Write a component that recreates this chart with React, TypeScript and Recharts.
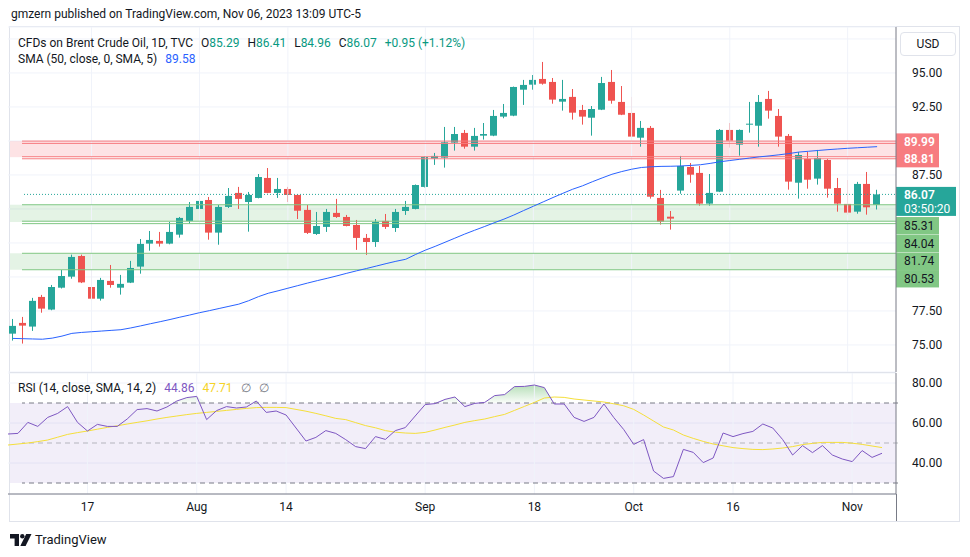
import React from 'react';
import {
  ComposedChart,
  Bar,
  Line,
  Area,
  XAxis,
  YAxis,
  CartesianGrid,
  ReferenceLine,
  ReferenceArea,
} from 'recharts';

// first trading day shown, daily candles (weekdays)
const START_DAY = '2023-07-05';

const OPEN = [
  75.83, 76.62, 76.35, 78.53, 77.6, 79.21, 80.02, 81.54, 79.26, 78.4,
  79.71, 79.21, 79.58, 80.76, 82.45, 82.65, 82.45, 83.11, 84.12, 85.0,
  85.66, 83.26, 85.15, 86.18, 85.51, 85.81, 87.28, 86.18, 86.47, 86.03,
  84.93, 83.16, 83.68, 84.71, 84.41, 83.82, 82.87, 82.57, 84.12, 83.6,
  84.85, 85.0, 86.62, 88.7, 88.77, 89.88, 90.59, 89.58, 90.39, 90.39,
  91.79, 91.86, 93.77, 94.14, 94.56, 94.34, 92.89, 93.24, 92.28, 91.71,
  92.3, 94.34, 92.87, 92.06, 90.24, 90.96, 85.81, 84.43, 86.35, 88.09,
  87.65, 85.39, 86.27, 90.81, 89.73, 91.2, 91.12, 93.09, 91.84, 90.37,
  86.93, 88.68, 87.23, 88.6, 86.54, 85.37, 84.8, 86.84, 85.29,
];
const HIGH = [
  76.91, 77.06, 78.46, 78.68, 79.41, 80.51, 81.64, 81.64, 80.59, 79.93,
  80.88, 80.15, 81.18, 82.79, 83.38, 83.31, 84.04, 84.41, 85.51, 85.81,
  85.88, 85.29, 86.54, 86.62, 86.25, 87.57, 88.01, 87.28, 86.62, 86.08,
  85.29, 84.78, 85.0, 85.74, 84.56, 84.19, 83.16, 84.26, 84.63, 85.0,
  85.59, 86.8, 88.86, 89.12, 91.03, 91.03, 90.81, 90.96, 91.32, 92.28,
  92.72, 94.0, 94.49, 94.85, 95.81, 94.63, 94.49, 93.82, 92.65, 92.57,
  94.71, 95.22, 94.04, 93.24, 91.47, 91.1, 86.4, 84.85, 88.9, 88.38,
  88.16, 87.57, 90.88, 91.32, 90.85, 92.87, 93.38, 93.68, 92.35, 90.51,
  89.19, 89.19, 89.34, 88.68, 87.28, 87.13, 86.99, 87.72, 86.41,
];
const LOW = [
  75.32, 75.1, 76.03, 77.37, 77.55, 79.15, 79.87, 79.55, 78.26, 78.26,
  79.21, 78.7, 79.55, 80.24, 81.93, 82.23, 82.4, 82.89, 83.92, 84.26,
  82.74, 82.37, 85.07, 85.0, 83.33, 85.78, 86.15, 85.81, 85.51, 84.26,
  83.16, 83.09, 83.31, 84.34, 83.72, 81.99, 81.62, 82.21, 83.53, 83.31,
  84.56, 84.97, 86.58, 88.24, 88.04, 89.29, 89.43, 89.29, 90.1, 90.35,
  91.67, 91.82, 92.65, 93.77, 94.14, 92.74, 92.23, 91.57, 91.2, 90.39,
  92.27, 92.74, 91.9, 90.28, 89.58, 85.76, 83.85, 83.48, 86.12, 86.93,
  85.24, 85.24, 86.24, 89.51, 88.92, 90.61, 89.58, 91.64, 89.58, 86.42,
  85.76, 86.49, 86.79, 85.83, 84.8, 84.58, 84.65, 84.58, 84.96,
];
const CLOSE = [
  76.4, 76.42, 78.24, 77.67, 79.26, 80.07, 81.47, 79.6, 78.4, 79.78,
  79.41, 79.49, 80.66, 82.43, 82.72, 82.45, 83.31, 84.34, 85.15, 85.59,
  83.26, 85.15, 85.96, 85.74, 86.03, 87.35, 86.18, 86.47, 86.03, 84.87,
  83.24, 83.75, 84.78, 84.41, 83.75, 82.87, 82.57, 84.04, 83.68, 84.78,
  85.15, 86.76, 88.82, 88.9, 89.9, 90.51, 89.58, 90.37, 90.51, 91.84,
  92.06, 93.97, 94.12, 94.49, 94.21, 93.04, 93.09, 92.08, 91.79, 92.35,
  94.26, 92.96, 91.93, 90.32, 90.96, 85.9, 84.07, 84.29, 88.16, 87.52,
  85.39, 86.18, 90.81, 90.02, 90.81, 91.27, 92.87, 92.23, 90.32, 87.01,
  88.97, 87.15, 88.75, 86.49, 85.39, 84.73, 86.84, 85.12, 86.07,
];
const SMA50 = [
  75.48, 75.46, 75.44, 75.42, 75.5, 75.65, 75.85, 75.92, 75.97, 76.02,
  76.07, 76.12, 76.25, 76.4, 76.56, 76.71, 76.87, 77.04, 77.2, 77.37,
  77.52, 77.68, 77.84, 78.0, 78.25, 78.55, 78.8, 78.98, 79.17, 79.36,
  79.55, 79.73, 79.9, 80.08, 80.27, 80.45, 80.62, 80.8, 80.98, 81.15,
  81.3, 81.65, 81.97, 82.25, 82.55, 82.85, 83.15, 83.43, 83.7, 83.98,
  84.25, 84.55, 84.88, 85.2, 85.52, 85.84, 86.15, 86.45, 86.7, 87.0,
  87.28, 87.55, 87.75, 87.92, 88.05, 88.1, 88.13, 88.14, 88.16, 88.2,
  88.25, 88.35, 88.47, 88.56, 88.65, 88.74, 88.83, 88.9, 88.98, 89.07,
  89.18, 89.24, 89.3, 89.36, 89.41, 89.46, 89.5, 89.54, 89.58,
];
const RSI = [
  54.5, 54.8, 60.3, 58.3, 62.8, 64.8, 68.2, 60.3, 56.0, 59.3,
  58.3, 58.3, 62.0, 66.7, 67.2, 66.0, 68.0, 71.0, 72.7, 73.3,
  61.7, 66.2, 68.2, 67.5, 68.0, 71.0, 65.3, 66.0, 64.0, 57.5,
  51.0, 52.8, 56.2, 54.8, 51.7, 48.2, 47.2, 53.2, 51.8, 56.2,
  57.7, 63.5, 69.2, 69.7, 71.8, 73.0, 68.2, 69.8, 70.3, 73.7,
  74.2, 78.2, 78.3, 79.0, 77.7, 69.5, 69.5, 62.8, 60.8, 62.8,
  69.5, 62.7, 56.7, 49.3, 51.7, 36.0, 32.3, 33.2, 46.8, 45.3,
  40.2, 42.5, 55.0, 53.2, 54.7, 55.8, 59.5, 57.5, 51.7, 44.0,
  48.7, 45.2, 48.7, 44.0, 42.0, 40.7, 46.2, 42.8, 44.86,
];
const RSI_MA = [
  49.0, 49.5, 50.0, 50.7, 51.5, 52.9, 54.3, 55.2, 56.0, 56.9,
  57.8, 58.6, 59.5, 60.3, 61.1, 62.0, 62.8, 63.5, 64.2, 64.8,
  65.3, 65.8, 66.3, 66.8, 67.3, 67.7, 67.8, 67.8, 67.7, 66.8,
  65.9, 64.8, 63.6, 62.3, 61.7, 60.2, 58.7, 57.6, 56.2, 55.4,
  55.0, 54.8, 55.3, 56.5, 57.8, 59.0, 60.3, 61.2, 62.0, 63.2,
  64.3, 66.3, 68.3, 70.3, 72.5, 73.0, 72.8, 72.0, 71.5, 71.0,
  70.5, 69.6, 68.6, 66.8, 64.0, 61.0, 58.0, 56.5, 54.0, 52.3,
  50.8, 49.5, 48.6, 47.7, 47.2, 46.8, 46.7, 47.0, 47.5, 48.2,
  49.2, 49.8, 50.3, 50.3, 50.3, 49.9, 49.3, 48.5, 47.71,
];

const TICKS = [
  { date: '2023-07-17', label: '17' },
  { date: '2023-08-01', label: 'Aug' },
  { date: '2023-08-14', label: '14' },
  { date: '2023-09-01', label: 'Sep' },
  { date: '2023-09-18', label: '18' },
  { date: '2023-10-02', label: 'Oct' },
  { date: '2023-10-16', label: '16' },
  { date: '2023-11-01', label: 'Nov' },
];
const PRICE_TICKS = [75, 77.5, 80, 82.5, 85, 87.5, 90, 92.5, 95, 97.5];
const PRICE_LABELS = [75, 77.5, 87.5, 92.5, 95];
const RSI_TICKS = [40, 60, 80];

const RED_ZONE = [88.81, 89.99];
const GREEN_ZONES = [
  [84.04, 85.31],
  [80.53, 81.74],
];
const RED_LINES = [89.99, 89.82, 88.84, 88.69];
const GREEN_LINES = [85.31, 84.1, 83.92, 81.74, 80.53];
const LAST_PRICE = 86.07;
const COUNTDOWN = '03:50:20';
const TAGS = [89.99, 88.81, 85.31, 84.04, 81.74, 80.53];

const UP = '#26a69a';
const DOWN = '#ef5350';
const TEXT = '#131722';
const GRID = '#f0f3fa';
const AXIS = '#787b86';
// empty space right of the last bar, like TradingView's right offset
const PAD_RIGHT = 14;
// drawings start at the frame edge, a little right of the plot's left edge
const INSET_LEFT = 2;
// where the stacked price tags sit below their own line (px)
const TAG_SHIFT = [1, 1.5, 21, 21.5, 8, 9];

const tradingDays = (start: string, n: number) => {
  const out: string[] = [];
  const d = new Date(start + 'T00:00:00Z');
  while (out.length < n) {
    const wd = d.getUTCDay();
    if (wd !== 0 && wd !== 6) out.push(d.toISOString().slice(0, 10));
    d.setUTCDate(d.getUTCDate() + 1);
  }
  return out;
};

const DATES = tradingDays(START_DAY, CLOSE.length);
const data = DATES.map((date, i) => ({
  date,
  open: OPEN[i],
  high: HIGH[i],
  low: LOW[i],
  close: CLOSE[i],
  range: [LOW[i], HIGH[i]],
  sma: SMA50[i],
  rsi: RSI[i],
  rsiMa: RSI_MA[i],
  ob: [70, Math.max(70, RSI[i])],
}));

const Candle = (props: any) => {
  const { x, y, width, height, payload } = props;
  if (x == null || !payload) return null;
  const { open, close, high, low } = payload;
  const top = Math.min(y, y + height);
  const h = Math.abs(height);
  const toY = (v: number) => top + ((high - v) / (high - low)) * h;
  const color = close >= open ? UP : DOWN;
  const cx = Math.floor(x + width / 2) + 0.5;
  const y1 = toY(Math.max(open, close));
  const y2 = toY(Math.min(open, close));
  return (
    <g>
      <line x1={cx} x2={cx} y1={top} y2={top + h} stroke={color} strokeWidth={1} />
      <rect x={cx - 3.5} y={y1} width={7} height={Math.max(1, y2 - y1)} fill={color} />
    </g>
  );
};

// horizontal lines / bands run on to the price scale, over the right offset
const WideLine = (p: any) => (
  <line
    x1={p.x1 + INSET_LEFT}
    y1={p.y1}
    x2={p.x2 + PAD_RIGHT}
    y2={p.y2}
    stroke={p.stroke}
    strokeWidth={p.strokeWidth ?? 1}
    strokeDasharray={p.strokeDasharray}
    strokeOpacity={p.strokeOpacity}
  />
);

const WideRect = (p: any) => (
  <rect
    x={p.x + INSET_LEFT}
    y={p.y}
    width={p.width + PAD_RIGHT - INSET_LEFT}
    height={p.height}
    fill={p.fill}
    fillOpacity={p.fillOpacity}
  />
);

const PriceTick = (props: any) => {
  const { x, y, payload } = props;
  if (!PRICE_LABELS.includes(payload.value)) return <g />;
  return (
    <text x={x + 8} y={y} dy={4} fontSize={12} fill={TEXT} textAnchor="start">
      {payload.value.toFixed(2)}
    </text>
  );
};

const RsiTick = (props: any) => {
  const { x, y, payload } = props;
  return (
    <text x={x + 8} y={y} dy={4} fontSize={12} fill={TEXT} textAnchor="start">
      {payload.value.toFixed(2)}
    </text>
  );
};

const tagLabel = (value: number, idx: number) => (props: any) => {
  const vb = props.viewBox;
  if (!vb) return null;
  const red = value > 88;
  const x = vb.x + vb.width;
  const cy = vb.y + TAG_SHIFT[idx];
  return (
    <g>
      <rect x={x} y={cy - 8.7} width={43} height={17.4} fill={red ? '#f77c80' : '#81c784'} />
      <text x={x + 8} y={cy} dy={4} fontSize={12} fill={red ? '#ffffff' : TEXT} fontWeight={red ? 600 : 400}>
        {value.toFixed(2)}
      </text>
    </g>
  );
};

const lastLabel = (props: any) => {
  const vb = props.viewBox;
  if (!vb) return null;
  const x = vb.x + vb.width;
  return (
    <g>
      <rect x={x} y={vb.y - 7.5} width={60} height={29} fill={UP} />
      <text x={x + 8} y={vb.y + 1} dy={4} fontSize={12} fill="#fff" fontWeight={600}>
        {LAST_PRICE.toFixed(2)}
      </text>
      <text x={x + 8} y={vb.y + 15} dy={4} fontSize={12} fill="#fff">
        {COUNTDOWN}
      </text>
    </g>
  );
};

const Logo = () => (
  <svg width={22} height={13} viewBox="0 0 22 13" style={{ position: 'absolute', left: 10, top: 534 }}>
    <path d="M0 0 H9 V12 H4.6 V4.4 H0 Z" fill={TEXT} />
    <circle cx={12.3} cy={2.2} r={2.2} fill={TEXT} />
    <path d="M16.2 0 H21.5 L15.6 12 H10.3 Z" fill={TEXT} />
  </svg>
);

const legendRow = (top: number): React.CSSProperties => ({
  position: 'absolute',
  left: 18,
  top,
  fontSize: 12,
  color: TEXT,
  whiteSpace: 'nowrap',
  lineHeight: '16px',
});

const App = () => {
  const tickLabel = (d: string) => TICKS.find((t) => t.date === d)?.label ?? '';
  return (
    <div
      style={{
        position: 'absolute',
        left: 0,
        top: 0,
        width: 970,
        height: 557,
        background: '#fff',
        overflow: 'hidden',
        fontFamily: 'Roboto, "Noto Sans", sans-serif',
      }}
    >
      <div style={{ position: 'absolute', left: 11, top: 6, fontSize: 12, color: TEXT, lineHeight: '16px' }}>
        gmzern published on TradingView.com, Nov 06, 2023 13:09 UTC-5
      </div>

      {/* frame */}
      <div
        style={{
          position: 'absolute',
          left: 9,
          top: 26,
          width: 949,
          height: 494,
          border: '1px solid #e0e3eb',
        }}
      />

      {/* price pane */}
      <div style={{ position: 'absolute', left: 0, top: 0 }}>
        <ComposedChart width={970} height={372} data={data} margin={{ top: 27, right: 0, bottom: 0, left: 8 }}>
          <XAxis dataKey="date" hide padding={{ left: 0, right: PAD_RIGHT }} />
          <YAxis
            orientation="right"
            width={74}
            domain={[73.01, 98.38]}
            allowDataOverflow
            ticks={PRICE_TICKS}
            tick={<PriceTick />}
            tickLine={false}
            axisLine={{ stroke: AXIS }}
            interval={0}
          />
          <CartesianGrid vertical={false} stroke={GRID} />
          {TICKS.map((t) => (
            <ReferenceLine key={t.date} x={t.date} stroke={GRID} />
          ))}
          <ReferenceArea y1={RED_ZONE[0]} y2={RED_ZONE[1]} fill="#f23645" fillOpacity={0.14} shape={WideRect} />
          {GREEN_ZONES.map((z, i) => (
            <ReferenceArea key={i} y1={z[0]} y2={z[1]} fill="#4caf50" fillOpacity={0.15} shape={WideRect} />
          ))}
          {RED_LINES.map((v) => (
            <ReferenceLine key={'r' + v} y={v} stroke="#f77c80" shape={WideLine} />
          ))}
          {GREEN_LINES.map((v) => (
            <ReferenceLine key={'g' + v} y={v} stroke="#81c784" shape={WideLine} />
          ))}
          <ReferenceLine y={LAST_PRICE} stroke={UP} strokeDasharray="1 2" shape={WideLine} />
          <Line
            dataKey="sma"
            stroke="#2962ff"
            strokeWidth={1}
            dot={false}
            activeDot={false}
            isAnimationActive={false}
          />
          <Bar dataKey="range" shape={<Candle />} barSize={7} isAnimationActive={false} />
          {TAGS.map((v, i) => (
            <ReferenceLine key={'t' + v} y={v} stroke="none" label={tagLabel(v, i)} />
          ))}
          <ReferenceLine y={LAST_PRICE} stroke="none" label={lastLabel} />
        </ComposedChart>
      </div>

      {/* rsi pane */}
      <div style={{ position: 'absolute', left: 0, top: 372 }}>
        <ComposedChart width={970} height={149} data={data} margin={{ top: 1, right: 0, bottom: 0, left: 8 }}>
          <defs>
            <linearGradient id="obFill" x1="0" y1="0" x2="0" y2="1">
              <stop offset="0%" stopColor="#4caf50" stopOpacity={0.4} />
              <stop offset="100%" stopColor="#4caf50" stopOpacity={0.03} />
            </linearGradient>
          </defs>
          <XAxis
            dataKey="date"
            padding={{ left: 0, right: PAD_RIGHT }}
            ticks={TICKS.map((t) => t.date)}
            interval={0}
            tickFormatter={tickLabel}
            tickLine={false}
            axisLine={{ stroke: AXIS }}
            height={27}
            tick={{ fill: TEXT, fontSize: 12 }}
          />
          <YAxis
            orientation="right"
            width={74}
            domain={[24.5, 85]}
            allowDataOverflow
            ticks={RSI_TICKS}
            tick={<RsiTick />}
            tickLine={false}
            axisLine={{ stroke: AXIS }}
            interval={0}
          />
          <CartesianGrid vertical={false} stroke={GRID} />
          {TICKS.map((t) => (
            <ReferenceLine key={t.date} x={t.date} stroke={GRID} />
          ))}
          <ReferenceArea y1={30} y2={70} fill="#7e57c2" fillOpacity={0.1} shape={WideRect} />
          <ReferenceLine y={70} stroke={AXIS} strokeDasharray="5 4" shape={WideLine} />
          <ReferenceLine y={50} stroke={AXIS} strokeOpacity={0.5} strokeDasharray="5 4" shape={WideLine} />
          <ReferenceLine y={30} stroke={AXIS} strokeDasharray="5 4" shape={WideLine} />
          <Area dataKey="ob" stroke="none" fill="url(#obFill)" fillOpacity={1} isAnimationActive={false} activeDot={false} />
          <Line dataKey="rsiMa" stroke="#f5df3a" strokeWidth={1} dot={false} activeDot={false} isAnimationActive={false} />
          <Line dataKey="rsi" stroke="#7e57c2" strokeWidth={1} dot={false} activeDot={false} isAnimationActive={false} />
        </ComposedChart>
      </div>

      {/* pane separator */}
      <div style={{ position: 'absolute', left: 10, top: 372, width: 886, height: 1, background: '#e0e3eb' }} />
      <div style={{ position: 'absolute', left: 896, top: 494, width: 1, height: 27, background: AXIS }} />

      {/* USD box */}
      <div
        style={{
          position: 'absolute',
          left: 900,
          top: 32,
          width: 54,
          height: 22,
          border: '1px solid #e0e3eb',
          borderRadius: 4,
          fontSize: 12,
          color: TEXT,
          textAlign: 'center',
          lineHeight: '22px',
        }}
      >
        USD
      </div>

      {/* legends */}
      <div style={legendRow(35)}>
        <span>CFDs on Brent Crude Oil, 1D, TVC</span>
        <span style={{ marginLeft: 8 }}>O</span>
        <span style={{ color: '#089981' }}>{OPEN[OPEN.length - 1].toFixed(2)}</span>
        <span style={{ marginLeft: 8 }}>H</span>
        <span style={{ color: '#089981' }}>{HIGH[HIGH.length - 1].toFixed(2)}</span>
        <span style={{ marginLeft: 8 }}>L</span>
        <span style={{ color: '#089981' }}>{LOW[LOW.length - 1].toFixed(2)}</span>
        <span style={{ marginLeft: 8 }}>C</span>
        <span style={{ color: '#089981' }}>{CLOSE[CLOSE.length - 1].toFixed(2)}</span>
        <span style={{ marginLeft: 8, color: '#089981' }}>+0.95 (+1.12%)</span>
      </div>
      <div style={legendRow(51)}>
        <span>SMA (50, close, 0, SMA, 5)</span>
        <span style={{ marginLeft: 8, color: '#2962ff' }}>{SMA50[SMA50.length - 1].toFixed(2)}</span>
      </div>
      <div style={legendRow(380)}>
        <span>RSI (14, close, SMA, 14, 2)</span>
        <span style={{ marginLeft: 8, color: '#7e57c2' }}>{RSI[RSI.length - 1].toFixed(2)}</span>
        <span style={{ marginLeft: 8, color: '#f5d327' }}>{RSI_MA[RSI_MA.length - 1].toFixed(2)}</span>
        <span style={{ marginLeft: 8, color: AXIS }}>∅</span>
        <span style={{ marginLeft: 8, color: AXIS }}>∅</span>
      </div>

      <Logo />
      <div style={{ position: 'absolute', left: 35, top: 532, fontSize: 13, color: TEXT, lineHeight: '16px' }}>
        TradingView
      </div>
    </div>
  );
};

export default App;
